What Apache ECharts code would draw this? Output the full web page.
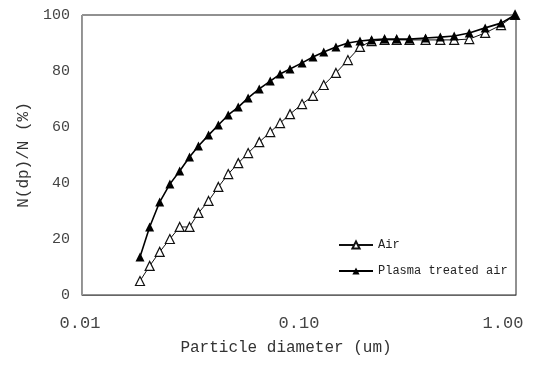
<!DOCTYPE html>
<html><head><meta charset="utf-8">
<script src="https://cdn.jsdelivr.net/npm/echarts@6/dist/echarts.min.js"></script>
<style>html,body{margin:0;padding:0;background:#fff}#c{width:545px;height:383px}</style>
</head><body><div id="c"></div>
<script>
const diameters = [0.0185,0.0205,0.0228,0.0254,0.0282,0.0313,0.0344,0.0383,0.0425,0.0472,0.0525,0.0583,0.0656,0.0737,0.0818,0.0909,0.1033,0.116,0.130,0.148,0.168,0.191,0.216,0.248,0.282,0.323,0.383,0.448,0.519,0.609,0.721,0.853,0.99];
const airValues = [5.0,10.4,15.4,20.0,24.3,24.3,29.3,33.6,38.6,43.2,47.1,50.7,54.6,58.2,61.4,64.6,68.2,71.1,75.0,79.3,83.9,88.6,90.7,91.1,91.1,91.1,91.1,91.1,91.1,91.4,93.6,96.4,100];
const plasmaValues = [13.6,24.3,33.2,39.6,44.3,49.3,53.2,57.1,60.7,64.3,67.1,70.4,73.6,76.4,78.9,80.7,82.9,85.0,86.8,88.6,90.0,90.7,91.1,91.4,91.4,91.4,91.8,92.1,92.5,93.6,95.4,97.1,100];
const xTickLabels = ['0.01','0.10','1.00'];
const FONT = 'Liberation Mono';
const chart = echarts.init(document.getElementById('c'));
chart.setOption({
  animation:false,
  backgroundColor:'#fff',
  grid:{left:82,right:29,top:15,bottom:88,show:true,borderColor:'#222',borderWidth:1},
  legend:{
    orient:'vertical',left:333,top:234,itemWidth:34,itemHeight:9,itemGap:14,
    textStyle:{fontFamily:FONT,fontSize:12,color:'#222'},
    data:['Air','Plasma treated air']
  },
  xAxis:{
    type:'log',logBase:10,min:0.01,max:1,
    name:'Particle diameter (um)',nameLocation:'middle',nameGap:45,
    nameTextStyle:{fontFamily:FONT,fontSize:16,color:'#333',padding:[0,26,0,0]},
    axisLine:{lineStyle:{color:'#666'}},axisTick:{show:false},splitLine:{show:false},minorTick:{show:false},
    axisLabel:{fontFamily:FONT,fontSize:17,color:'#444',margin:20,
      formatter:v=>{const k=Math.round(Math.log10(v));
        if(k===-2) return '{l|'+xTickLabels[0]+'}';
        if(k===-1) return xTickLabels[1];
        if(k===0) return '{r|'+xTickLabels[2]+'}';
        return '';},
      rich:{l:{fontFamily:FONT,fontSize:17,color:'#444',padding:[0,4,0,0]},
            r:{fontFamily:FONT,fontSize:17,color:'#444',padding:[0,26,0,0]}}}
  },
  yAxis:{
    type:'value',min:0,max:100,interval:20,
    name:'N(dp)/N (%)',nameLocation:'middle',nameGap:50,
    nameTextStyle:{fontFamily:FONT,fontSize:16,color:'#333'},
    axisLine:{show:true,lineStyle:{color:'#999'}},axisTick:{show:false},splitLine:{show:false},
    axisLabel:{fontFamily:FONT,fontSize:15,color:'#444',margin:12}
  },
  series:[
    {name:'Air',type:'line',data:diameters.map((d,i)=>[d,airValues[i]]),
     symbol:'triangle',symbolSize:9,showAllSymbol:true,
     lineStyle:{color:'#111',width:1},
     itemStyle:{color:'#fff',borderColor:'#111',borderWidth:1.2},z:2},
    {name:'Plasma treated air',type:'line',data:diameters.map((d,i)=>[d,plasmaValues[i]]),
     symbol:'triangle',symbolSize:9,showAllSymbol:true,
     lineStyle:{color:'#000',width:1.6},
     itemStyle:{color:'#000',borderColor:'#000',borderWidth:0},z:3}
  ]
});
</script></body></html>
